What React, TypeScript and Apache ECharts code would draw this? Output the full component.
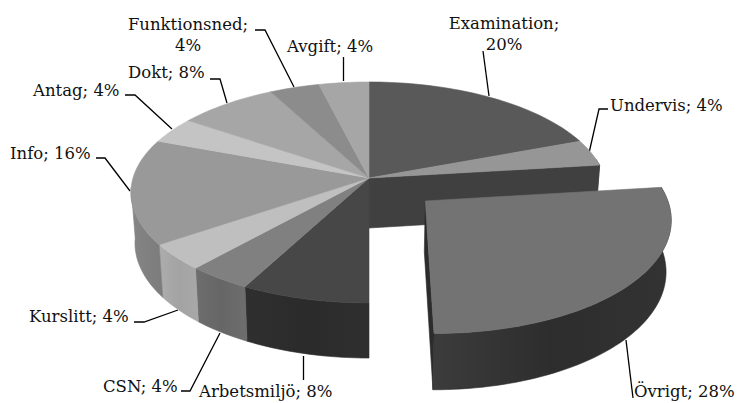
import React, { useEffect, useRef } from "react";
import * as echarts from "echarts";

const categories = ["Examination", "Undervis", "Övrigt", "Arbetsmiljö", "CSN", "Kurslitt", "Info", "Antag", "Dokt", "Funktionsned", "Avgift"];
const percents = [20, 4, 28, 8, 4, 4, 16, 4, 8, 4, 4];

const topColors = ["#595959", "#969696", "#737373", "#474747", "#808080", "#bfbfbf", "#999999", "#c4c4c4", "#a6a6a6", "#8c8c8c", "#a6a6a6"];
const sideColors: [string, string, string][] = [
  ["#404040", "#404040", "#404040"],
  ["#404040", "#404040", "#404040"],
  ["#3c3c3c", "#2d2d2d", "#333333"],
  ["#2f2f2f", "#2b2b2b", "#2f2f2f"],
  ["#6e6e6e", "#666666", "#6e6e6e"],
  ["#adadad", "#a3a3a3", "#a8a8a8"],
  ["#868686", "#808080", "#7c7c7c"],
  ["#999999", "#999999", "#999999"],
  ["#888888", "#888888", "#888888"],
  ["#707070", "#707070", "#707070"],
  ["#888888", "#888888", "#888888"],
];
const innerFace = "#404040";
const explodedIndex = 2;
const explodeBy = 0.31;

// Text lines and anchor [x, y] of each label, then its leader line.
const labelLayout: { x: number; y: number; align: string; wrap?: boolean }[] = [
  { x: 504, y: 34, align: "center", wrap: true },
  { x: 610, y: 105, align: "left" },
  { x: 634, y: 391, align: "left" },
  { x: 199, y: 391, align: "left" },
  { x: 103, y: 386, align: "left" },
  { x: 29, y: 316, align: "left" },
  { x: 10, y: 153, align: "left" },
  { x: 33, y: 90, align: "left" },
  { x: 128, y: 72, align: "left" },
  { x: 188, y: 35, align: "center", wrap: true },
  { x: 287, y: 46, align: "left" },
];
const leaders: number[][][] = [
  [[483, 51], [489, 96]],
  [[608, 109], [599, 109], [589, 153]],
  [[633, 398], [626, 340]],
  [[303.5, 356], [303.5, 380]],
  [[181, 391], [190, 391], [220, 333]],
  [[134, 322], [144, 322], [178, 310]],
  [[96, 158], [105, 158], [130, 191]],
  [[125, 95], [135, 95], [172, 129]],
  [[210, 79], [220, 79], [227, 103]],
  [[255, 30], [265, 30], [294, 87]],
  [[343.5, 57], [343.5, 81]],
];

const total = percents.reduce((a, b) => a + b, 0);
const CX = 369;
const topDisc = { cy: 178, rx: 236, ry: 108.6 };
const botDisc = { cy: 228, rx: 232, ry: 113 };
const K = 0.131;
const rad = (d: number) => (d * Math.PI) / 180;

function project(disc: typeof topDisc, X: number, Y: number): number[] {
  const f = 1 / (1 + K * Y);
  return [CX + disc.rx * X * f, disc.cy - disc.ry * Y * f];
}
function rim(disc: typeof topDisc, deg: number, ox: number, oy: number) {
  return project(disc, Math.sin(rad(deg)) + ox, Math.cos(rad(deg)) + oy);
}
function arc(disc: typeof topDisc, a: number, b: number, ox: number, oy: number) {
  const n = Math.max(2, Math.ceil(Math.abs(b - a) / 1.5));
  const pts: number[][] = [];
  for (let i = 0; i <= n; i++) pts.push(rim(disc, a + ((b - a) * i) / n, ox, oy));
  return pts;
}
function solid(points: number[][], color: string, fill?: any) {
  return {
    type: "polygon",
    shape: { points },
    style: { fill: fill || color, stroke: color, lineWidth: 0.6 },
  };
}

function renderItem(params: any, api: any) {
  const i = params.dataIndex;
  const v = api.value(0);
  let before = 0;
  for (let j = 0; j < i; j++) before += percents[j];
  const a = (before / total) * 360;
  const b = a + (v / total) * 360;
  const mid = (a + b) / 2;
  const exploded = i === explodedIndex;
  const ox = exploded ? Math.sin(rad(mid)) * explodeBy : 0;
  const oy = exploded ? Math.cos(rad(mid)) * explodeBy : 0;
  const children: any[] = [];

  if (i === 1) {
    // cut face of the main body, seen through the gap left by the pulled-out slice
    const p = rim(topDisc, b, 0, 0);
    const q = rim(botDisc, b, 0, 0);
    children.push(solid([project(topDisc, 0, 0), p, q, project(botDisc, 0, 0)], innerFace));
  }
  if (exploded) {
    children.push(
      solid(
        [project(topDisc, ox, oy), rim(topDisc, b, ox, oy), rim(botDisc, b, ox, oy), project(botDisc, ox, oy)],
        "#2c2c2c",
      ),
    );
  }
  const sa = Math.max(a, 80);
  const sb = Math.min(b, 265);
  if (sb > sa) {
    const [c0, c1, c2] = sideColors[i];
    const pts = [...arc(topDisc, sa, sb, ox, oy), ...arc(botDisc, sb, sa, ox, oy)];
    children.push(
      solid(pts, c1, {
        type: "linear",
        x: 0,
        y: 0,
        x2: 1,
        y2: 0,
        colorStops: [
          { offset: 0, color: c0 },
          { offset: 0.5, color: c1 },
          { offset: 1, color: c2 },
        ],
      }),
    );
  }
  children.push(solid([project(topDisc, ox, oy), ...arc(topDisc, a, b, ox, oy)], topColors[i]));
  return { type: "group", children };
}

const FONT = '"DejaVu Serif", serif';

export default function App() {
  const ref = useRef<HTMLDivElement>(null);
  useEffect(() => {
    const chart = echarts.init(ref.current!, null, { renderer: "svg" });
    const texts = categories.map((c, i) => {
      const l = labelLayout[i];
      const sep = l.wrap ? ";\n" : "; ";
      return {
        type: "text",
        x: l.x,
        y: l.y,
        style: {
          text: `${c}${sep}${percents[i]}%`,
          font: `16.5px ${FONT}`,
          fill: "#111111",
          align: l.align,
          verticalAlign: "middle",
          lineHeight: 21,
        },
      };
    });
    const lines = leaders.map((pts) => ({
      type: "polyline",
      shape: { points: pts },
      style: { stroke: "#000000", lineWidth: 1.3, fill: "none" },
    }));
    chart.setOption({
      animation: false,
      backgroundColor: "#ffffff",
      series: [
        {
          type: "custom",
          coordinateSystem: "none",
          silent: true,
          renderItem,
          data: percents.map((p) => [p]),
        },
      ],
      graphic: { elements: [...lines, ...texts] },
    });
    return () => chart.dispose();
  }, []);
  return <div ref={ref} style={{ position: "absolute", left: 0, top: 0, width: 739, height: 403 }} />;
}
